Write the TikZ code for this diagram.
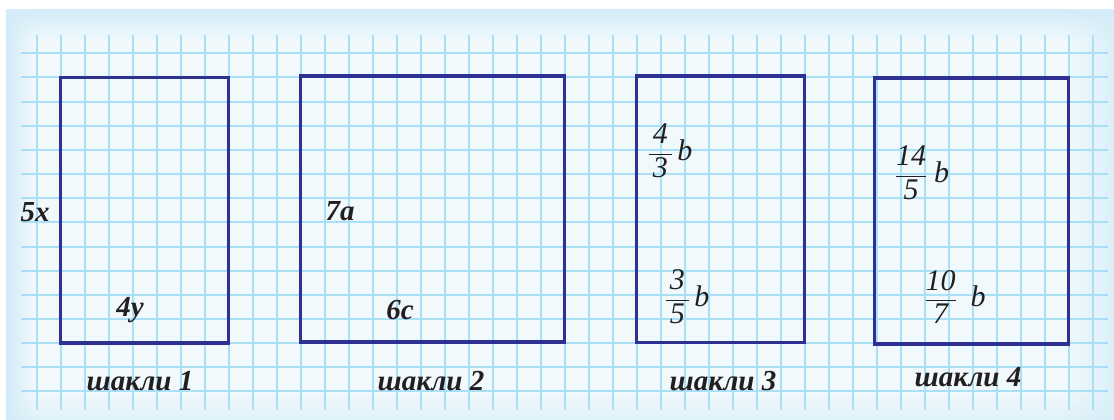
\documentclass[tikz,border=0pt]{standalone}
\usepackage{amsmath}
\usepackage{fontspec}
\setmainfont{Liberation Serif}
\usepackage{tikz}
\usetikzlibrary{fadings}

\definecolor{paneledge}{HTML}{D3ECF7}
\definecolor{panelmid}{HTML}{F1F9FC}
\definecolor{gridblue}{HTML}{A9E0F7}
\definecolor{navy}{HTML}{2E3192}
\definecolor{ink}{HTML}{231F20}
\tikzfading[name=edgedown, top color=transparent!0, bottom color=transparent!100]
\tikzfading[name=edgeup, top color=transparent!100, bottom color=transparent!0]
\tikzfading[name=edgeright, left color=transparent!0, right color=transparent!100]
\tikzfading[name=edgeleft, left color=transparent!100, right color=transparent!0]

\begin{document}
\begin{tikzpicture}[x=1pt,y=-1pt,
    gridline/.style={gridblue, line width=2pt},
    figure/.style={navy, line width=3.5pt, line join=miter},
    side/.style={ink, font=\fontsize{29}{32}\selectfont\bfseries\itshape, inner sep=0pt},
    frac/.style={ink, font=\fontsize{30}{32}\selectfont\itshape, inner sep=0pt},
    caption/.style={ink, font=\fontsize{29}{32}\selectfont\bfseries\itshape, inner sep=0pt}]
    \useasboundingbox (0,0) rectangle (1114,420);
    \fill [white] (0,0) rectangle (1114,420);
    % the tinted panel, darker towards its edges
    \fill [panelmid] (6,9) rectangle (1114,420);
    \fill [paneledge, path fading=edgedown] (6,9) rectangle (1114,42);
    \fill [paneledge, path fading=edgeup, opacity=0.6] (6,392) rectangle (1114,420);
    \fill [paneledge, path fading=edgeright] (6,9) rectangle (34,420);
    \fill [paneledge, path fading=edgeleft, opacity=0.7] (1066,9) rectangle (1114,420);
    % squared paper
    \foreach \k in {0,...,44}
      \draw [gridline] (36.7+24*\k,35) -- (36.7+24*\k,410);
    \foreach \j in {0,...,14}
      \draw [gridline] (21,53.3+24.15*\j) -- (1108,53.3+24.15*\j);
    % the four figures
    \draw [figure] (60.7,77.3) rectangle (228.7,343);
    \draw [figure] (300.7,76) rectangle (564.7,342);
    \draw [figure] (636.7,76) rectangle (804.7,342.5);
    \draw [figure] (874.5,78) rectangle (1068.7,344);
    % sides
    \path (35,212)  node [side] (sidex) {5x}
          (130,310) node [side] (sidey) {4y}
          (340,211) node [side] (sidea) {7a}
          (400,310) node [side] (sidec) {6c};
    \path (670,151) node [frac] (bthree) {$\dfrac{\,\textit{4}\,}{\,\textit{3}\,}\,\textit{b}$}
          (687,297) node [frac] (bfive)  {$\dfrac{\,\textit{3}\,}{\,\textit{5}\,}\,\textit{b}$}
          (922,173) node [frac] (bfour)  {$\dfrac{\textit{14}}{\textit{5}}\;\textit{b}$}
          (955,297) node [frac] (bten)   {$\dfrac{\textit{10}}{\textit{7}}\;\;\textit{b}$};
    % captions
    \path (140,381) node [caption] (capone)   {шакли 1}
          (431,381) node [caption] (captwo)   {шакли 2}
          (723,381) node [caption] (capthree) {шакли 3}
          (968,377) node [caption] (capfour)  {шакли 4};
\end{tikzpicture}
\end{document}
